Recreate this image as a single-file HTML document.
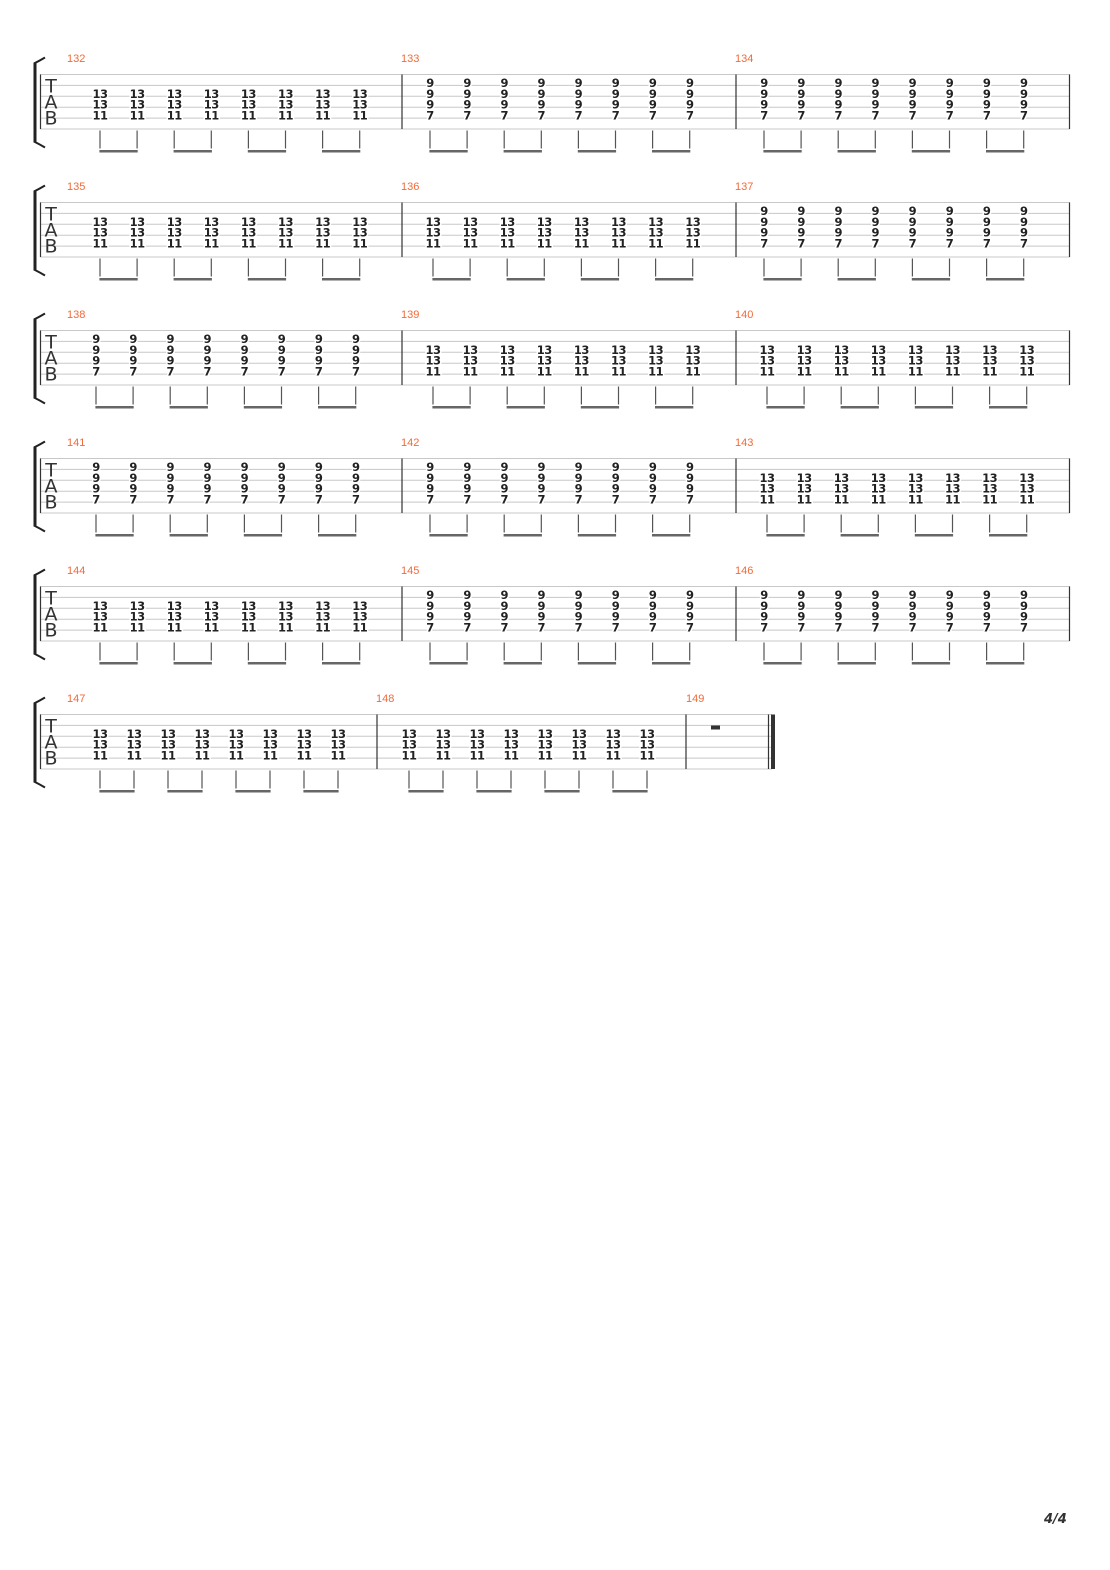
<!DOCTYPE html>
<html><head><meta charset="utf-8"><style>
html,body{margin:0;padding:0;background:#fff;width:1110px;height:1570px;overflow:hidden}
svg{display:block}
.n{font-family:"DejaVu Sans","Liberation Sans",sans-serif;font-size:11.5px;font-weight:bold;fill:#222;text-anchor:middle;stroke:#fff;stroke-width:3px;paint-order:stroke;letter-spacing:-0.5px}
.mn{font-family:"Liberation Sans",sans-serif;font-size:11px;fill:#f26a3a}
.tab{font-family:"DejaVu Sans","Liberation Sans",sans-serif;font-size:19px;fill:#333;text-anchor:middle}
.sl{stroke:#c8c8c8;stroke-width:1}
.bl{stroke:#333;stroke-width:1.2}
.st{stroke:#555;stroke-width:1.2;fill:none}
.bm{fill:#666}
</style></head><body>
<svg width="1110" height="1570" viewBox="0 0 1110 1570" xmlns="http://www.w3.org/2000/svg">
<defs></defs>

<!-- SYSTEM 1 -->
<g transform="translate(0,74.5)">
<path class="sl" d="M40 0H1070M40 10.9H1070M40 21.8H1070M40 32.7H1070M40 43.6H1070M40 54.5H1070"/>
<path class="bl" d="M40.5 0V54.5M402 0V54.5M736 0V54.5M1069.5 0V54.5"/>
<path d="M35 -12V68" stroke="#222" stroke-width="3"/><path d="M34 -11Q40 -14 45 -17M34 67Q40 70 45 73" stroke="#222" stroke-width="2" fill="none"/>
<text class="tab" x="51" y="18">T</text><text class="tab" x="51" y="34">A</text><text class="tab" x="51" y="50">B</text>
<text class="mn" x="67" y="-12.5">132</text><text class="mn" x="401" y="-12.5">133</text><text class="mn" x="735" y="-12.5">134</text>
<g transform="translate(100,0)" class="n">
<text x="0" y="23.3">13<tspan x="0" dy="10.9">13</tspan><tspan x="0" dy="10.9">11</tspan></text>
<text x="37.1" y="23.3">13<tspan x="37.1" dy="10.9">13</tspan><tspan x="37.1" dy="10.9">11</tspan></text>
<text x="74.2" y="23.3">13<tspan x="74.2" dy="10.9">13</tspan><tspan x="74.2" dy="10.9">11</tspan></text>
<text x="111.3" y="23.3">13<tspan x="111.3" dy="10.9">13</tspan><tspan x="111.3" dy="10.9">11</tspan></text>
<text x="148.4" y="23.3">13<tspan x="148.4" dy="10.9">13</tspan><tspan x="148.4" dy="10.9">11</tspan></text>
<text x="185.5" y="23.3">13<tspan x="185.5" dy="10.9">13</tspan><tspan x="185.5" dy="10.9">11</tspan></text>
<text x="222.6" y="23.3">13<tspan x="222.6" dy="10.9">13</tspan><tspan x="222.6" dy="10.9">11</tspan></text>
<text x="259.7" y="23.3">13<tspan x="259.7" dy="10.9">13</tspan><tspan x="259.7" dy="10.9">11</tspan></text>
<path class="st" d="M0 56V77M37.1 56V77M74.2 56V77M111.3 56V77M148.4 56V77M185.5 56V77M222.6 56V77M259.7 56V77"/>
<rect class="bm" x="-0.6" y="75.5" width="38.3" height="2.5"/><rect class="bm" x="73.6" y="75.5" width="38.3" height="2.5"/><rect class="bm" x="147.8" y="75.5" width="38.3" height="2.5"/><rect class="bm" x="222" y="75.5" width="38.3" height="2.5"/>
</g>
<g transform="translate(430,0)" class="n">
<text x="0" y="12.4">9<tspan x="0" dy="10.9">9</tspan><tspan x="0" dy="10.9">9</tspan><tspan x="0" dy="10.9">7</tspan></text>
<text x="37.1" y="12.4">9<tspan x="37.1" dy="10.9">9</tspan><tspan x="37.1" dy="10.9">9</tspan><tspan x="37.1" dy="10.9">7</tspan></text>
<text x="74.2" y="12.4">9<tspan x="74.2" dy="10.9">9</tspan><tspan x="74.2" dy="10.9">9</tspan><tspan x="74.2" dy="10.9">7</tspan></text>
<text x="111.3" y="12.4">9<tspan x="111.3" dy="10.9">9</tspan><tspan x="111.3" dy="10.9">9</tspan><tspan x="111.3" dy="10.9">7</tspan></text>
<text x="148.4" y="12.4">9<tspan x="148.4" dy="10.9">9</tspan><tspan x="148.4" dy="10.9">9</tspan><tspan x="148.4" dy="10.9">7</tspan></text>
<text x="185.5" y="12.4">9<tspan x="185.5" dy="10.9">9</tspan><tspan x="185.5" dy="10.9">9</tspan><tspan x="185.5" dy="10.9">7</tspan></text>
<text x="222.6" y="12.4">9<tspan x="222.6" dy="10.9">9</tspan><tspan x="222.6" dy="10.9">9</tspan><tspan x="222.6" dy="10.9">7</tspan></text>
<text x="259.7" y="12.4">9<tspan x="259.7" dy="10.9">9</tspan><tspan x="259.7" dy="10.9">9</tspan><tspan x="259.7" dy="10.9">7</tspan></text>
<path class="st" d="M0 56V77M37.1 56V77M74.2 56V77M111.3 56V77M148.4 56V77M185.5 56V77M222.6 56V77M259.7 56V77"/>
<rect class="bm" x="-0.6" y="75.5" width="38.3" height="2.5"/><rect class="bm" x="73.6" y="75.5" width="38.3" height="2.5"/><rect class="bm" x="147.8" y="75.5" width="38.3" height="2.5"/><rect class="bm" x="222" y="75.5" width="38.3" height="2.5"/>
</g>
<g transform="translate(764,0)" class="n">
<text x="0" y="12.4">9<tspan x="0" dy="10.9">9</tspan><tspan x="0" dy="10.9">9</tspan><tspan x="0" dy="10.9">7</tspan></text>
<text x="37.1" y="12.4">9<tspan x="37.1" dy="10.9">9</tspan><tspan x="37.1" dy="10.9">9</tspan><tspan x="37.1" dy="10.9">7</tspan></text>
<text x="74.2" y="12.4">9<tspan x="74.2" dy="10.9">9</tspan><tspan x="74.2" dy="10.9">9</tspan><tspan x="74.2" dy="10.9">7</tspan></text>
<text x="111.3" y="12.4">9<tspan x="111.3" dy="10.9">9</tspan><tspan x="111.3" dy="10.9">9</tspan><tspan x="111.3" dy="10.9">7</tspan></text>
<text x="148.4" y="12.4">9<tspan x="148.4" dy="10.9">9</tspan><tspan x="148.4" dy="10.9">9</tspan><tspan x="148.4" dy="10.9">7</tspan></text>
<text x="185.5" y="12.4">9<tspan x="185.5" dy="10.9">9</tspan><tspan x="185.5" dy="10.9">9</tspan><tspan x="185.5" dy="10.9">7</tspan></text>
<text x="222.6" y="12.4">9<tspan x="222.6" dy="10.9">9</tspan><tspan x="222.6" dy="10.9">9</tspan><tspan x="222.6" dy="10.9">7</tspan></text>
<text x="259.7" y="12.4">9<tspan x="259.7" dy="10.9">9</tspan><tspan x="259.7" dy="10.9">9</tspan><tspan x="259.7" dy="10.9">7</tspan></text>
<path class="st" d="M0 56V77M37.1 56V77M74.2 56V77M111.3 56V77M148.4 56V77M185.5 56V77M222.6 56V77M259.7 56V77"/>
<rect class="bm" x="-0.6" y="75.5" width="38.3" height="2.5"/><rect class="bm" x="73.6" y="75.5" width="38.3" height="2.5"/><rect class="bm" x="147.8" y="75.5" width="38.3" height="2.5"/><rect class="bm" x="222" y="75.5" width="38.3" height="2.5"/>
</g>
</g>

<!-- SYSTEM 2 -->
<g transform="translate(0,202.5)">
<path class="sl" d="M40 0H1070M40 10.9H1070M40 21.8H1070M40 32.7H1070M40 43.6H1070M40 54.5H1070"/>
<path class="bl" d="M40.5 0V54.5M402 0V54.5M736 0V54.5M1069.5 0V54.5"/>
<path d="M35 -12V68" stroke="#222" stroke-width="3"/><path d="M34 -11Q40 -14 45 -17M34 67Q40 70 45 73" stroke="#222" stroke-width="2" fill="none"/>
<text class="tab" x="51" y="18">T</text><text class="tab" x="51" y="34">A</text><text class="tab" x="51" y="50">B</text>
<text class="mn" x="67" y="-12.5">135</text><text class="mn" x="401" y="-12.5">136</text><text class="mn" x="735" y="-12.5">137</text>
<g transform="translate(100,0)" class="n">
<text x="0" y="23.3">13<tspan x="0" dy="10.9">13</tspan><tspan x="0" dy="10.9">11</tspan></text>
<text x="37.1" y="23.3">13<tspan x="37.1" dy="10.9">13</tspan><tspan x="37.1" dy="10.9">11</tspan></text>
<text x="74.2" y="23.3">13<tspan x="74.2" dy="10.9">13</tspan><tspan x="74.2" dy="10.9">11</tspan></text>
<text x="111.3" y="23.3">13<tspan x="111.3" dy="10.9">13</tspan><tspan x="111.3" dy="10.9">11</tspan></text>
<text x="148.4" y="23.3">13<tspan x="148.4" dy="10.9">13</tspan><tspan x="148.4" dy="10.9">11</tspan></text>
<text x="185.5" y="23.3">13<tspan x="185.5" dy="10.9">13</tspan><tspan x="185.5" dy="10.9">11</tspan></text>
<text x="222.6" y="23.3">13<tspan x="222.6" dy="10.9">13</tspan><tspan x="222.6" dy="10.9">11</tspan></text>
<text x="259.7" y="23.3">13<tspan x="259.7" dy="10.9">13</tspan><tspan x="259.7" dy="10.9">11</tspan></text>
<path class="st" d="M0 56V77M37.1 56V77M74.2 56V77M111.3 56V77M148.4 56V77M185.5 56V77M222.6 56V77M259.7 56V77"/>
<rect class="bm" x="-0.6" y="75.5" width="38.3" height="2.5"/><rect class="bm" x="73.6" y="75.5" width="38.3" height="2.5"/><rect class="bm" x="147.8" y="75.5" width="38.3" height="2.5"/><rect class="bm" x="222" y="75.5" width="38.3" height="2.5"/>
</g>
<g transform="translate(433,0)" class="n">
<text x="0" y="23.3">13<tspan x="0" dy="10.9">13</tspan><tspan x="0" dy="10.9">11</tspan></text>
<text x="37.1" y="23.3">13<tspan x="37.1" dy="10.9">13</tspan><tspan x="37.1" dy="10.9">11</tspan></text>
<text x="74.2" y="23.3">13<tspan x="74.2" dy="10.9">13</tspan><tspan x="74.2" dy="10.9">11</tspan></text>
<text x="111.3" y="23.3">13<tspan x="111.3" dy="10.9">13</tspan><tspan x="111.3" dy="10.9">11</tspan></text>
<text x="148.4" y="23.3">13<tspan x="148.4" dy="10.9">13</tspan><tspan x="148.4" dy="10.9">11</tspan></text>
<text x="185.5" y="23.3">13<tspan x="185.5" dy="10.9">13</tspan><tspan x="185.5" dy="10.9">11</tspan></text>
<text x="222.6" y="23.3">13<tspan x="222.6" dy="10.9">13</tspan><tspan x="222.6" dy="10.9">11</tspan></text>
<text x="259.7" y="23.3">13<tspan x="259.7" dy="10.9">13</tspan><tspan x="259.7" dy="10.9">11</tspan></text>
<path class="st" d="M0 56V77M37.1 56V77M74.2 56V77M111.3 56V77M148.4 56V77M185.5 56V77M222.6 56V77M259.7 56V77"/>
<rect class="bm" x="-0.6" y="75.5" width="38.3" height="2.5"/><rect class="bm" x="73.6" y="75.5" width="38.3" height="2.5"/><rect class="bm" x="147.8" y="75.5" width="38.3" height="2.5"/><rect class="bm" x="222" y="75.5" width="38.3" height="2.5"/>
</g>
<g transform="translate(764,0)" class="n">
<text x="0" y="12.4">9<tspan x="0" dy="10.9">9</tspan><tspan x="0" dy="10.9">9</tspan><tspan x="0" dy="10.9">7</tspan></text>
<text x="37.1" y="12.4">9<tspan x="37.1" dy="10.9">9</tspan><tspan x="37.1" dy="10.9">9</tspan><tspan x="37.1" dy="10.9">7</tspan></text>
<text x="74.2" y="12.4">9<tspan x="74.2" dy="10.9">9</tspan><tspan x="74.2" dy="10.9">9</tspan><tspan x="74.2" dy="10.9">7</tspan></text>
<text x="111.3" y="12.4">9<tspan x="111.3" dy="10.9">9</tspan><tspan x="111.3" dy="10.9">9</tspan><tspan x="111.3" dy="10.9">7</tspan></text>
<text x="148.4" y="12.4">9<tspan x="148.4" dy="10.9">9</tspan><tspan x="148.4" dy="10.9">9</tspan><tspan x="148.4" dy="10.9">7</tspan></text>
<text x="185.5" y="12.4">9<tspan x="185.5" dy="10.9">9</tspan><tspan x="185.5" dy="10.9">9</tspan><tspan x="185.5" dy="10.9">7</tspan></text>
<text x="222.6" y="12.4">9<tspan x="222.6" dy="10.9">9</tspan><tspan x="222.6" dy="10.9">9</tspan><tspan x="222.6" dy="10.9">7</tspan></text>
<text x="259.7" y="12.4">9<tspan x="259.7" dy="10.9">9</tspan><tspan x="259.7" dy="10.9">9</tspan><tspan x="259.7" dy="10.9">7</tspan></text>
<path class="st" d="M0 56V77M37.1 56V77M74.2 56V77M111.3 56V77M148.4 56V77M185.5 56V77M222.6 56V77M259.7 56V77"/>
<rect class="bm" x="-0.6" y="75.5" width="38.3" height="2.5"/><rect class="bm" x="73.6" y="75.5" width="38.3" height="2.5"/><rect class="bm" x="147.8" y="75.5" width="38.3" height="2.5"/><rect class="bm" x="222" y="75.5" width="38.3" height="2.5"/>
</g>
</g>

<!-- SYSTEM 3 -->
<g transform="translate(0,330.5)">
<path class="sl" d="M40 0H1070M40 10.9H1070M40 21.8H1070M40 32.7H1070M40 43.6H1070M40 54.5H1070"/>
<path class="bl" d="M40.5 0V54.5M402 0V54.5M736 0V54.5M1069.5 0V54.5"/>
<path d="M35 -12V68" stroke="#222" stroke-width="3"/><path d="M34 -11Q40 -14 45 -17M34 67Q40 70 45 73" stroke="#222" stroke-width="2" fill="none"/>
<text class="tab" x="51" y="18">T</text><text class="tab" x="51" y="34">A</text><text class="tab" x="51" y="50">B</text>
<text class="mn" x="67" y="-12.5">138</text><text class="mn" x="401" y="-12.5">139</text><text class="mn" x="735" y="-12.5">140</text>
<g transform="translate(96,0)" class="n">
<text x="0" y="12.4">9<tspan x="0" dy="10.9">9</tspan><tspan x="0" dy="10.9">9</tspan><tspan x="0" dy="10.9">7</tspan></text>
<text x="37.1" y="12.4">9<tspan x="37.1" dy="10.9">9</tspan><tspan x="37.1" dy="10.9">9</tspan><tspan x="37.1" dy="10.9">7</tspan></text>
<text x="74.2" y="12.4">9<tspan x="74.2" dy="10.9">9</tspan><tspan x="74.2" dy="10.9">9</tspan><tspan x="74.2" dy="10.9">7</tspan></text>
<text x="111.3" y="12.4">9<tspan x="111.3" dy="10.9">9</tspan><tspan x="111.3" dy="10.9">9</tspan><tspan x="111.3" dy="10.9">7</tspan></text>
<text x="148.4" y="12.4">9<tspan x="148.4" dy="10.9">9</tspan><tspan x="148.4" dy="10.9">9</tspan><tspan x="148.4" dy="10.9">7</tspan></text>
<text x="185.5" y="12.4">9<tspan x="185.5" dy="10.9">9</tspan><tspan x="185.5" dy="10.9">9</tspan><tspan x="185.5" dy="10.9">7</tspan></text>
<text x="222.6" y="12.4">9<tspan x="222.6" dy="10.9">9</tspan><tspan x="222.6" dy="10.9">9</tspan><tspan x="222.6" dy="10.9">7</tspan></text>
<text x="259.7" y="12.4">9<tspan x="259.7" dy="10.9">9</tspan><tspan x="259.7" dy="10.9">9</tspan><tspan x="259.7" dy="10.9">7</tspan></text>
<path class="st" d="M0 56V77M37.1 56V77M74.2 56V77M111.3 56V77M148.4 56V77M185.5 56V77M222.6 56V77M259.7 56V77"/>
<rect class="bm" x="-0.6" y="75.5" width="38.3" height="2.5"/><rect class="bm" x="73.6" y="75.5" width="38.3" height="2.5"/><rect class="bm" x="147.8" y="75.5" width="38.3" height="2.5"/><rect class="bm" x="222" y="75.5" width="38.3" height="2.5"/>
</g>
<g transform="translate(433,0)" class="n">
<text x="0" y="23.3">13<tspan x="0" dy="10.9">13</tspan><tspan x="0" dy="10.9">11</tspan></text>
<text x="37.1" y="23.3">13<tspan x="37.1" dy="10.9">13</tspan><tspan x="37.1" dy="10.9">11</tspan></text>
<text x="74.2" y="23.3">13<tspan x="74.2" dy="10.9">13</tspan><tspan x="74.2" dy="10.9">11</tspan></text>
<text x="111.3" y="23.3">13<tspan x="111.3" dy="10.9">13</tspan><tspan x="111.3" dy="10.9">11</tspan></text>
<text x="148.4" y="23.3">13<tspan x="148.4" dy="10.9">13</tspan><tspan x="148.4" dy="10.9">11</tspan></text>
<text x="185.5" y="23.3">13<tspan x="185.5" dy="10.9">13</tspan><tspan x="185.5" dy="10.9">11</tspan></text>
<text x="222.6" y="23.3">13<tspan x="222.6" dy="10.9">13</tspan><tspan x="222.6" dy="10.9">11</tspan></text>
<text x="259.7" y="23.3">13<tspan x="259.7" dy="10.9">13</tspan><tspan x="259.7" dy="10.9">11</tspan></text>
<path class="st" d="M0 56V77M37.1 56V77M74.2 56V77M111.3 56V77M148.4 56V77M185.5 56V77M222.6 56V77M259.7 56V77"/>
<rect class="bm" x="-0.6" y="75.5" width="38.3" height="2.5"/><rect class="bm" x="73.6" y="75.5" width="38.3" height="2.5"/><rect class="bm" x="147.8" y="75.5" width="38.3" height="2.5"/><rect class="bm" x="222" y="75.5" width="38.3" height="2.5"/>
</g>
<g transform="translate(767,0)" class="n">
<text x="0" y="23.3">13<tspan x="0" dy="10.9">13</tspan><tspan x="0" dy="10.9">11</tspan></text>
<text x="37.1" y="23.3">13<tspan x="37.1" dy="10.9">13</tspan><tspan x="37.1" dy="10.9">11</tspan></text>
<text x="74.2" y="23.3">13<tspan x="74.2" dy="10.9">13</tspan><tspan x="74.2" dy="10.9">11</tspan></text>
<text x="111.3" y="23.3">13<tspan x="111.3" dy="10.9">13</tspan><tspan x="111.3" dy="10.9">11</tspan></text>
<text x="148.4" y="23.3">13<tspan x="148.4" dy="10.9">13</tspan><tspan x="148.4" dy="10.9">11</tspan></text>
<text x="185.5" y="23.3">13<tspan x="185.5" dy="10.9">13</tspan><tspan x="185.5" dy="10.9">11</tspan></text>
<text x="222.6" y="23.3">13<tspan x="222.6" dy="10.9">13</tspan><tspan x="222.6" dy="10.9">11</tspan></text>
<text x="259.7" y="23.3">13<tspan x="259.7" dy="10.9">13</tspan><tspan x="259.7" dy="10.9">11</tspan></text>
<path class="st" d="M0 56V77M37.1 56V77M74.2 56V77M111.3 56V77M148.4 56V77M185.5 56V77M222.6 56V77M259.7 56V77"/>
<rect class="bm" x="-0.6" y="75.5" width="38.3" height="2.5"/><rect class="bm" x="73.6" y="75.5" width="38.3" height="2.5"/><rect class="bm" x="147.8" y="75.5" width="38.3" height="2.5"/><rect class="bm" x="222" y="75.5" width="38.3" height="2.5"/>
</g>
</g>

<!-- SYSTEM 4 -->
<g transform="translate(0,458.5)">
<path class="sl" d="M40 0H1070M40 10.9H1070M40 21.8H1070M40 32.7H1070M40 43.6H1070M40 54.5H1070"/>
<path class="bl" d="M40.5 0V54.5M402 0V54.5M736 0V54.5M1069.5 0V54.5"/>
<path d="M35 -12V68" stroke="#222" stroke-width="3"/><path d="M34 -11Q40 -14 45 -17M34 67Q40 70 45 73" stroke="#222" stroke-width="2" fill="none"/>
<text class="tab" x="51" y="18">T</text><text class="tab" x="51" y="34">A</text><text class="tab" x="51" y="50">B</text>
<text class="mn" x="67" y="-12.5">141</text><text class="mn" x="401" y="-12.5">142</text><text class="mn" x="735" y="-12.5">143</text>
<g transform="translate(96,0)" class="n">
<text x="0" y="12.4">9<tspan x="0" dy="10.9">9</tspan><tspan x="0" dy="10.9">9</tspan><tspan x="0" dy="10.9">7</tspan></text>
<text x="37.1" y="12.4">9<tspan x="37.1" dy="10.9">9</tspan><tspan x="37.1" dy="10.9">9</tspan><tspan x="37.1" dy="10.9">7</tspan></text>
<text x="74.2" y="12.4">9<tspan x="74.2" dy="10.9">9</tspan><tspan x="74.2" dy="10.9">9</tspan><tspan x="74.2" dy="10.9">7</tspan></text>
<text x="111.3" y="12.4">9<tspan x="111.3" dy="10.9">9</tspan><tspan x="111.3" dy="10.9">9</tspan><tspan x="111.3" dy="10.9">7</tspan></text>
<text x="148.4" y="12.4">9<tspan x="148.4" dy="10.9">9</tspan><tspan x="148.4" dy="10.9">9</tspan><tspan x="148.4" dy="10.9">7</tspan></text>
<text x="185.5" y="12.4">9<tspan x="185.5" dy="10.9">9</tspan><tspan x="185.5" dy="10.9">9</tspan><tspan x="185.5" dy="10.9">7</tspan></text>
<text x="222.6" y="12.4">9<tspan x="222.6" dy="10.9">9</tspan><tspan x="222.6" dy="10.9">9</tspan><tspan x="222.6" dy="10.9">7</tspan></text>
<text x="259.7" y="12.4">9<tspan x="259.7" dy="10.9">9</tspan><tspan x="259.7" dy="10.9">9</tspan><tspan x="259.7" dy="10.9">7</tspan></text>
<path class="st" d="M0 56V77M37.1 56V77M74.2 56V77M111.3 56V77M148.4 56V77M185.5 56V77M222.6 56V77M259.7 56V77"/>
<rect class="bm" x="-0.6" y="75.5" width="38.3" height="2.5"/><rect class="bm" x="73.6" y="75.5" width="38.3" height="2.5"/><rect class="bm" x="147.8" y="75.5" width="38.3" height="2.5"/><rect class="bm" x="222" y="75.5" width="38.3" height="2.5"/>
</g>
<g transform="translate(430,0)" class="n">
<text x="0" y="12.4">9<tspan x="0" dy="10.9">9</tspan><tspan x="0" dy="10.9">9</tspan><tspan x="0" dy="10.9">7</tspan></text>
<text x="37.1" y="12.4">9<tspan x="37.1" dy="10.9">9</tspan><tspan x="37.1" dy="10.9">9</tspan><tspan x="37.1" dy="10.9">7</tspan></text>
<text x="74.2" y="12.4">9<tspan x="74.2" dy="10.9">9</tspan><tspan x="74.2" dy="10.9">9</tspan><tspan x="74.2" dy="10.9">7</tspan></text>
<text x="111.3" y="12.4">9<tspan x="111.3" dy="10.9">9</tspan><tspan x="111.3" dy="10.9">9</tspan><tspan x="111.3" dy="10.9">7</tspan></text>
<text x="148.4" y="12.4">9<tspan x="148.4" dy="10.9">9</tspan><tspan x="148.4" dy="10.9">9</tspan><tspan x="148.4" dy="10.9">7</tspan></text>
<text x="185.5" y="12.4">9<tspan x="185.5" dy="10.9">9</tspan><tspan x="185.5" dy="10.9">9</tspan><tspan x="185.5" dy="10.9">7</tspan></text>
<text x="222.6" y="12.4">9<tspan x="222.6" dy="10.9">9</tspan><tspan x="222.6" dy="10.9">9</tspan><tspan x="222.6" dy="10.9">7</tspan></text>
<text x="259.7" y="12.4">9<tspan x="259.7" dy="10.9">9</tspan><tspan x="259.7" dy="10.9">9</tspan><tspan x="259.7" dy="10.9">7</tspan></text>
<path class="st" d="M0 56V77M37.1 56V77M74.2 56V77M111.3 56V77M148.4 56V77M185.5 56V77M222.6 56V77M259.7 56V77"/>
<rect class="bm" x="-0.6" y="75.5" width="38.3" height="2.5"/><rect class="bm" x="73.6" y="75.5" width="38.3" height="2.5"/><rect class="bm" x="147.8" y="75.5" width="38.3" height="2.5"/><rect class="bm" x="222" y="75.5" width="38.3" height="2.5"/>
</g>
<g transform="translate(767,0)" class="n">
<text x="0" y="23.3">13<tspan x="0" dy="10.9">13</tspan><tspan x="0" dy="10.9">11</tspan></text>
<text x="37.1" y="23.3">13<tspan x="37.1" dy="10.9">13</tspan><tspan x="37.1" dy="10.9">11</tspan></text>
<text x="74.2" y="23.3">13<tspan x="74.2" dy="10.9">13</tspan><tspan x="74.2" dy="10.9">11</tspan></text>
<text x="111.3" y="23.3">13<tspan x="111.3" dy="10.9">13</tspan><tspan x="111.3" dy="10.9">11</tspan></text>
<text x="148.4" y="23.3">13<tspan x="148.4" dy="10.9">13</tspan><tspan x="148.4" dy="10.9">11</tspan></text>
<text x="185.5" y="23.3">13<tspan x="185.5" dy="10.9">13</tspan><tspan x="185.5" dy="10.9">11</tspan></text>
<text x="222.6" y="23.3">13<tspan x="222.6" dy="10.9">13</tspan><tspan x="222.6" dy="10.9">11</tspan></text>
<text x="259.7" y="23.3">13<tspan x="259.7" dy="10.9">13</tspan><tspan x="259.7" dy="10.9">11</tspan></text>
<path class="st" d="M0 56V77M37.1 56V77M74.2 56V77M111.3 56V77M148.4 56V77M185.5 56V77M222.6 56V77M259.7 56V77"/>
<rect class="bm" x="-0.6" y="75.5" width="38.3" height="2.5"/><rect class="bm" x="73.6" y="75.5" width="38.3" height="2.5"/><rect class="bm" x="147.8" y="75.5" width="38.3" height="2.5"/><rect class="bm" x="222" y="75.5" width="38.3" height="2.5"/>
</g>
</g>

<!-- SYSTEM 5 -->
<g transform="translate(0,586.5)">
<path class="sl" d="M40 0H1070M40 10.9H1070M40 21.8H1070M40 32.7H1070M40 43.6H1070M40 54.5H1070"/>
<path class="bl" d="M40.5 0V54.5M402 0V54.5M736 0V54.5M1069.5 0V54.5"/>
<path d="M35 -12V68" stroke="#222" stroke-width="3"/><path d="M34 -11Q40 -14 45 -17M34 67Q40 70 45 73" stroke="#222" stroke-width="2" fill="none"/>
<text class="tab" x="51" y="18">T</text><text class="tab" x="51" y="34">A</text><text class="tab" x="51" y="50">B</text>
<text class="mn" x="67" y="-12.5">144</text><text class="mn" x="401" y="-12.5">145</text><text class="mn" x="735" y="-12.5">146</text>
<g transform="translate(100,0)" class="n">
<text x="0" y="23.3">13<tspan x="0" dy="10.9">13</tspan><tspan x="0" dy="10.9">11</tspan></text>
<text x="37.1" y="23.3">13<tspan x="37.1" dy="10.9">13</tspan><tspan x="37.1" dy="10.9">11</tspan></text>
<text x="74.2" y="23.3">13<tspan x="74.2" dy="10.9">13</tspan><tspan x="74.2" dy="10.9">11</tspan></text>
<text x="111.3" y="23.3">13<tspan x="111.3" dy="10.9">13</tspan><tspan x="111.3" dy="10.9">11</tspan></text>
<text x="148.4" y="23.3">13<tspan x="148.4" dy="10.9">13</tspan><tspan x="148.4" dy="10.9">11</tspan></text>
<text x="185.5" y="23.3">13<tspan x="185.5" dy="10.9">13</tspan><tspan x="185.5" dy="10.9">11</tspan></text>
<text x="222.6" y="23.3">13<tspan x="222.6" dy="10.9">13</tspan><tspan x="222.6" dy="10.9">11</tspan></text>
<text x="259.7" y="23.3">13<tspan x="259.7" dy="10.9">13</tspan><tspan x="259.7" dy="10.9">11</tspan></text>
<path class="st" d="M0 56V77M37.1 56V77M74.2 56V77M111.3 56V77M148.4 56V77M185.5 56V77M222.6 56V77M259.7 56V77"/>
<rect class="bm" x="-0.6" y="75.5" width="38.3" height="2.5"/><rect class="bm" x="73.6" y="75.5" width="38.3" height="2.5"/><rect class="bm" x="147.8" y="75.5" width="38.3" height="2.5"/><rect class="bm" x="222" y="75.5" width="38.3" height="2.5"/>
</g>
<g transform="translate(430,0)" class="n">
<text x="0" y="12.4">9<tspan x="0" dy="10.9">9</tspan><tspan x="0" dy="10.9">9</tspan><tspan x="0" dy="10.9">7</tspan></text>
<text x="37.1" y="12.4">9<tspan x="37.1" dy="10.9">9</tspan><tspan x="37.1" dy="10.9">9</tspan><tspan x="37.1" dy="10.9">7</tspan></text>
<text x="74.2" y="12.4">9<tspan x="74.2" dy="10.9">9</tspan><tspan x="74.2" dy="10.9">9</tspan><tspan x="74.2" dy="10.9">7</tspan></text>
<text x="111.3" y="12.4">9<tspan x="111.3" dy="10.9">9</tspan><tspan x="111.3" dy="10.9">9</tspan><tspan x="111.3" dy="10.9">7</tspan></text>
<text x="148.4" y="12.4">9<tspan x="148.4" dy="10.9">9</tspan><tspan x="148.4" dy="10.9">9</tspan><tspan x="148.4" dy="10.9">7</tspan></text>
<text x="185.5" y="12.4">9<tspan x="185.5" dy="10.9">9</tspan><tspan x="185.5" dy="10.9">9</tspan><tspan x="185.5" dy="10.9">7</tspan></text>
<text x="222.6" y="12.4">9<tspan x="222.6" dy="10.9">9</tspan><tspan x="222.6" dy="10.9">9</tspan><tspan x="222.6" dy="10.9">7</tspan></text>
<text x="259.7" y="12.4">9<tspan x="259.7" dy="10.9">9</tspan><tspan x="259.7" dy="10.9">9</tspan><tspan x="259.7" dy="10.9">7</tspan></text>
<path class="st" d="M0 56V77M37.1 56V77M74.2 56V77M111.3 56V77M148.4 56V77M185.5 56V77M222.6 56V77M259.7 56V77"/>
<rect class="bm" x="-0.6" y="75.5" width="38.3" height="2.5"/><rect class="bm" x="73.6" y="75.5" width="38.3" height="2.5"/><rect class="bm" x="147.8" y="75.5" width="38.3" height="2.5"/><rect class="bm" x="222" y="75.5" width="38.3" height="2.5"/>
</g>
<g transform="translate(764,0)" class="n">
<text x="0" y="12.4">9<tspan x="0" dy="10.9">9</tspan><tspan x="0" dy="10.9">9</tspan><tspan x="0" dy="10.9">7</tspan></text>
<text x="37.1" y="12.4">9<tspan x="37.1" dy="10.9">9</tspan><tspan x="37.1" dy="10.9">9</tspan><tspan x="37.1" dy="10.9">7</tspan></text>
<text x="74.2" y="12.4">9<tspan x="74.2" dy="10.9">9</tspan><tspan x="74.2" dy="10.9">9</tspan><tspan x="74.2" dy="10.9">7</tspan></text>
<text x="111.3" y="12.4">9<tspan x="111.3" dy="10.9">9</tspan><tspan x="111.3" dy="10.9">9</tspan><tspan x="111.3" dy="10.9">7</tspan></text>
<text x="148.4" y="12.4">9<tspan x="148.4" dy="10.9">9</tspan><tspan x="148.4" dy="10.9">9</tspan><tspan x="148.4" dy="10.9">7</tspan></text>
<text x="185.5" y="12.4">9<tspan x="185.5" dy="10.9">9</tspan><tspan x="185.5" dy="10.9">9</tspan><tspan x="185.5" dy="10.9">7</tspan></text>
<text x="222.6" y="12.4">9<tspan x="222.6" dy="10.9">9</tspan><tspan x="222.6" dy="10.9">9</tspan><tspan x="222.6" dy="10.9">7</tspan></text>
<text x="259.7" y="12.4">9<tspan x="259.7" dy="10.9">9</tspan><tspan x="259.7" dy="10.9">9</tspan><tspan x="259.7" dy="10.9">7</tspan></text>
<path class="st" d="M0 56V77M37.1 56V77M74.2 56V77M111.3 56V77M148.4 56V77M185.5 56V77M222.6 56V77M259.7 56V77"/>
<rect class="bm" x="-0.6" y="75.5" width="38.3" height="2.5"/><rect class="bm" x="73.6" y="75.5" width="38.3" height="2.5"/><rect class="bm" x="147.8" y="75.5" width="38.3" height="2.5"/><rect class="bm" x="222" y="75.5" width="38.3" height="2.5"/>
</g>
</g>

<!-- SYSTEM 6 -->
<g transform="translate(0,714.5)">
<path class="sl" d="M40 0H772M40 10.9H772M40 21.8H772M40 32.7H772M40 43.6H772M40 54.5H772"/>
<path class="bl" d="M40.5 0V54.5M377 0V54.5M686 0V54.5M768.5 0V54.5"/>
<rect x="771" y="0" width="4" height="54.5" fill="#333"/>
<path d="M35 -12V68" stroke="#222" stroke-width="3"/><path d="M34 -11Q40 -14 45 -17M34 67Q40 70 45 73" stroke="#222" stroke-width="2" fill="none"/>
<text class="tab" x="51" y="18">T</text><text class="tab" x="51" y="34">A</text><text class="tab" x="51" y="50">B</text>
<text class="mn" x="67" y="-12.5">147</text><text class="mn" x="376" y="-12.5">148</text><text class="mn" x="686" y="-12.5">149</text>
<g transform="translate(100,0)" class="n">
<text x="0" y="23.3">13<tspan x="0" dy="10.9">13</tspan><tspan x="0" dy="10.9">11</tspan></text>
<text x="34" y="23.3">13<tspan x="34" dy="10.9">13</tspan><tspan x="34" dy="10.9">11</tspan></text>
<text x="68" y="23.3">13<tspan x="68" dy="10.9">13</tspan><tspan x="68" dy="10.9">11</tspan></text>
<text x="102" y="23.3">13<tspan x="102" dy="10.9">13</tspan><tspan x="102" dy="10.9">11</tspan></text>
<text x="136" y="23.3">13<tspan x="136" dy="10.9">13</tspan><tspan x="136" dy="10.9">11</tspan></text>
<text x="170" y="23.3">13<tspan x="170" dy="10.9">13</tspan><tspan x="170" dy="10.9">11</tspan></text>
<text x="204" y="23.3">13<tspan x="204" dy="10.9">13</tspan><tspan x="204" dy="10.9">11</tspan></text>
<text x="238" y="23.3">13<tspan x="238" dy="10.9">13</tspan><tspan x="238" dy="10.9">11</tspan></text>
<path class="st" d="M0 56V77M34 56V77M68 56V77M102 56V77M136 56V77M170 56V77M204 56V77M238 56V77"/>
<rect class="bm" x="-0.6" y="75.5" width="35.2" height="2.5"/><rect class="bm" x="67.4" y="75.5" width="35.2" height="2.5"/><rect class="bm" x="135.4" y="75.5" width="35.2" height="2.5"/><rect class="bm" x="203.4" y="75.5" width="35.2" height="2.5"/>
</g>
<g transform="translate(409,0)" class="n">
<text x="0" y="23.3">13<tspan x="0" dy="10.9">13</tspan><tspan x="0" dy="10.9">11</tspan></text>
<text x="34" y="23.3">13<tspan x="34" dy="10.9">13</tspan><tspan x="34" dy="10.9">11</tspan></text>
<text x="68" y="23.3">13<tspan x="68" dy="10.9">13</tspan><tspan x="68" dy="10.9">11</tspan></text>
<text x="102" y="23.3">13<tspan x="102" dy="10.9">13</tspan><tspan x="102" dy="10.9">11</tspan></text>
<text x="136" y="23.3">13<tspan x="136" dy="10.9">13</tspan><tspan x="136" dy="10.9">11</tspan></text>
<text x="170" y="23.3">13<tspan x="170" dy="10.9">13</tspan><tspan x="170" dy="10.9">11</tspan></text>
<text x="204" y="23.3">13<tspan x="204" dy="10.9">13</tspan><tspan x="204" dy="10.9">11</tspan></text>
<text x="238" y="23.3">13<tspan x="238" dy="10.9">13</tspan><tspan x="238" dy="10.9">11</tspan></text>
<path class="st" d="M0 56V77M34 56V77M68 56V77M102 56V77M136 56V77M170 56V77M204 56V77M238 56V77"/>
<rect class="bm" x="-0.6" y="75.5" width="35.2" height="2.5"/><rect class="bm" x="67.4" y="75.5" width="35.2" height="2.5"/><rect class="bm" x="135.4" y="75.5" width="35.2" height="2.5"/><rect class="bm" x="203.4" y="75.5" width="35.2" height="2.5"/>
</g>
<rect x="711" y="11" width="9" height="4" fill="#333"/>
</g>

<text x="1044" y="1523" font-family="DejaVu Sans, Liberation Sans, sans-serif" font-size="13" font-style="italic" font-weight="bold" fill="#333">4/4</text>
</svg>
</body></html>
